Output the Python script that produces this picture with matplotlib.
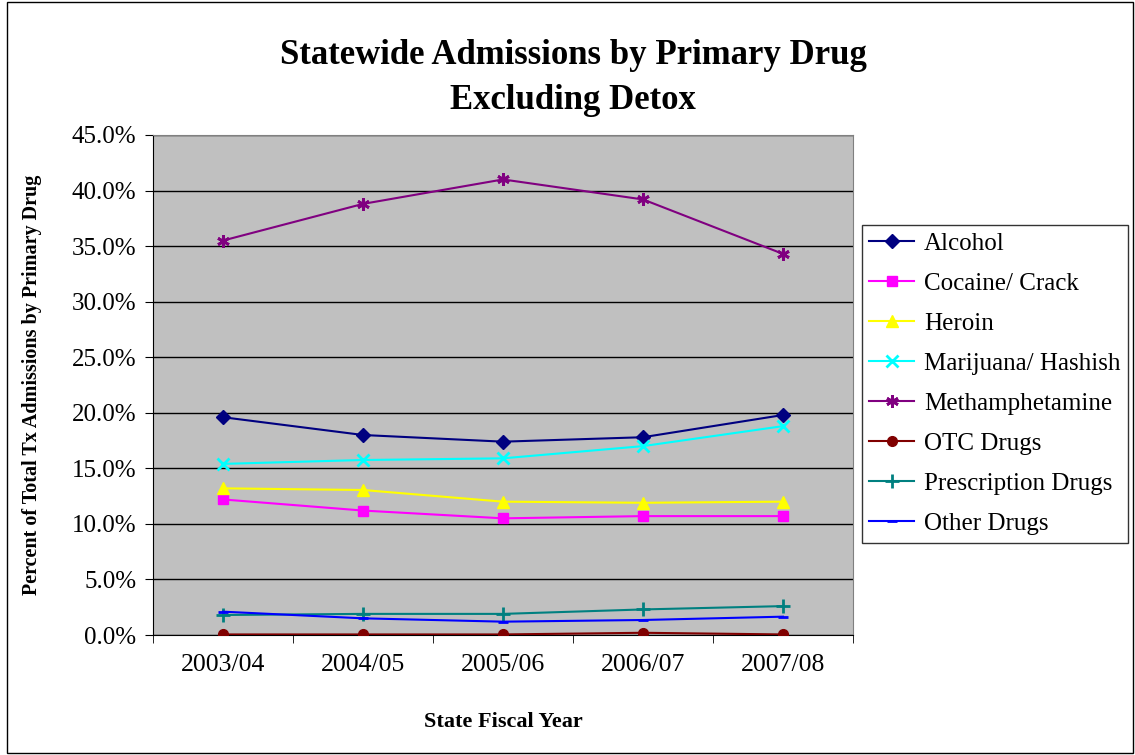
import numpy as np
import matplotlib
matplotlib.use("Agg")
import matplotlib.pyplot as plt
from matplotlib.patches import Rectangle

plt.rcParams['font.family'] = ['Liberation Serif', 'DejaVu Serif']

# --- data ---
years = ["2003/04", "2004/05", "2005/06", "2006/07", "2007/08"]
alcohol = [19.6, 18.0, 17.4, 17.8, 19.8]
cocaine = [12.2, 11.2, 10.5, 10.7, 10.7]
heroin = [13.2, 13.05, 12.0, 11.9, 12.0]
marijuana = [15.4, 15.75, 15.9, 17.0, 18.8]
meth = [35.5, 38.8, 41.0, 39.2, 34.3]
otc = [0.05, 0.05, 0.05, 0.2, 0.05]
prescription = [1.8, 1.9, 1.9, 2.3, 2.6]
other = [2.1, 1.5, 1.2, 1.35, 1.65]

series = [
    ("Alcohol", alcohol, "#000080", "D", 7),
    ("Cocaine/ Crack", cocaine, "#FF00FF", "s", 7),
    ("Heroin", heroin, "#FFFF00", "^", 8),
    ("Marijuana/ Hashish", marijuana, "#00FFFF", "x", 8),
    ("Methamphetamine", meth, "#800080", (6, 2, 0), 9),
    ("OTC Drugs", otc, "#800000", "o", 7),
    ("Prescription Drugs", prescription, "#008080", "+", 10),
    ("Other Drugs", other, "#0000FF", "_", 7),
]

fig = plt.figure(figsize=(11.35, 7.55), dpi=100)
ax = fig.add_axes([153 / 1135, 1 - 635 / 755, 700 / 1135, 500 / 755])
ax.set_facecolor("#C0C0C0")

x = np.arange(len(years))
for name, vals, col, mk, ms in series:
    thin = mk in ("x", "+", "_") or isinstance(mk, tuple)
    ax.plot(x, vals, color=col, marker=mk, markersize=ms, linewidth=1.5,
            markeredgewidth=2 if thin else 1,
            markerfacecolor=col, markeredgecolor=col, label=name, zorder=3)

ax.set_xlim(-0.5, 4.5)
ax.set_ylim(0, 45)
ax.set_yticks(np.arange(0, 46, 5))
ax.set_yticklabels([f"{v:.1f}%" for v in np.arange(0, 46, 5)], fontsize=18)
ax.set_xticks(x)
ax.set_xticklabels(years, fontsize=18.5)
ax.set_xticks(np.arange(-0.5, 5, 1), minor=True)
ax.tick_params(axis="x", which="major", length=0, pad=14)
ax.tick_params(axis="x", which="minor", length=6, direction="out", color="black")
ax.tick_params(axis="y", length=6, direction="out", pad=6)
ax.grid(axis="y", color="black", linewidth=1, zorder=1)
ax.set_axisbelow(True)

for s in ("top", "right"):
    ax.spines[s].set_color("#808080")
ax.spines["left"].set_color("black")
ax.spines["bottom"].set_color("black")

ax.set_ylabel("Percent of Total Tx Admissions by Primary Drug", fontsize=14.5,
              fontweight="bold")
ax.yaxis.set_label_coords(-0.159, 0.5)
ax.set_xlabel("State Fiscal Year", fontsize=16, fontweight="bold")
ax.xaxis.set_label_coords(0.5, -0.154)

fig.text(573 / 1135, 1 - 78 / 755, "Statewide Admissions by Primary Drug\nExcluding Detox",
         ha="center", va="center", fontsize=25, fontweight="bold", linespacing=1.45)

leg = fig.legend(loc="upper right", bbox_to_anchor=(1128 / 1135, 1 - 225 / 755),
                 fontsize=18, frameon=True, fancybox=False, edgecolor="black",
                 handlelength=1.8, borderpad=0.3, labelspacing=0.70, handletextpad=0.4,
                 borderaxespad=0)
leg.get_frame().set_linewidth(1)

fig.patches.append(Rectangle((7 / 1135, 2 / 755), 1126 / 1135, 751 / 755,
                             transform=fig.transFigure, fill=False,
                             edgecolor="black", linewidth=1))

fig.savefig("out.png", dpi=100)
